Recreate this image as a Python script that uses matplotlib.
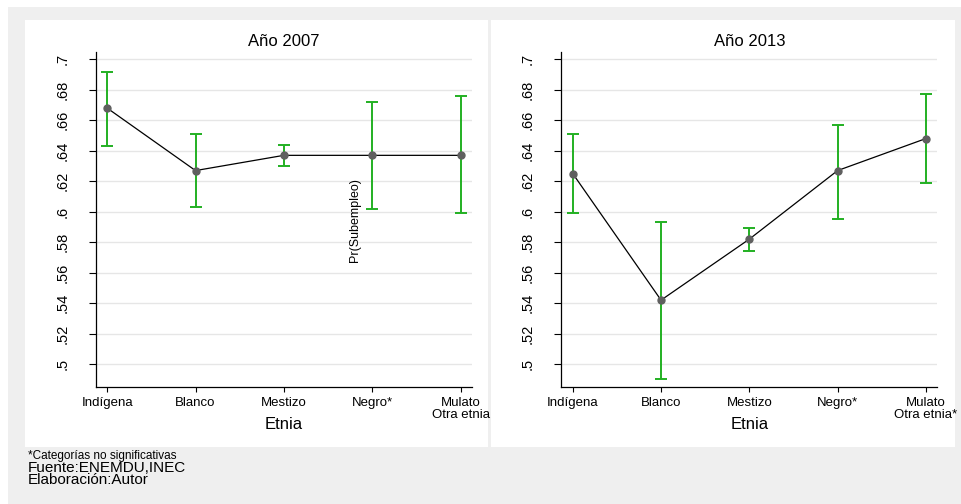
import matplotlib
matplotlib.use("Agg")
import matplotlib.pyplot as plt
from matplotlib.patches import Rectangle
import numpy as np

plt.rcParams['font.family'] = ['Liberation Sans', 'DejaVu Sans']

# Categories and predicted probabilities with confidence bounds
categorias_2007 = ["Indígena", "Blanco", "Mestizo", "Negro*", "Mulato\nOtra etnia"]
categorias_2013 = ["Indígena", "Blanco", "Mestizo", "Negro*", "Mulato\nOtra etnia*"]

prob_2007 = [0.668, 0.627, 0.637, 0.637, 0.637]
inf_2007 = [0.643, 0.603, 0.630, 0.602, 0.599]
sup_2007 = [0.692, 0.651, 0.644, 0.672, 0.676]

prob_2013 = [0.625, 0.542, 0.582, 0.627, 0.648]
inf_2013 = [0.599, 0.490, 0.574, 0.595, 0.619]
sup_2013 = [0.651, 0.593, 0.589, 0.657, 0.677]

y_ticks = [0.50, 0.52, 0.54, 0.56, 0.58, 0.60, 0.62, 0.64, 0.66, 0.68, 0.70]

W, H = 962, 504
fig = plt.figure(figsize=(W / 100, H / 100), dpi=100, facecolor='white')


def px_rect(x0, y0, x1, y1):
    # pixel box (top-left origin) -> figure fraction rectangle
    return (x0 / W, 1 - y1 / H, (x1 - x0) / W, (y1 - y0) / H)


# grey outer background and white panel areas (behind the axes)
bg = px_rect(8, 7, 962, 504)
fig.patches.append(Rectangle(bg[:2], bg[2], bg[3], transform=fig.transFigure,
                             facecolor='#efefef', edgecolor='none', zorder=-20))
for box in [(25, 20, 488, 447), (491, 20, 955, 447)]:
    r = px_rect(*box)
    fig.patches.append(Rectangle(r[:2], r[2], r[3], transform=fig.transFigure,
                                 facecolor='white', edgecolor='none', zorder=-10))

GREEN = '#22b022'
MARK = '#5f5f5f'


def fmt(v):
    s = f"{v:.2f}".rstrip('0').rstrip('.')
    return s.lstrip('0')


def panel(box, title, cats, prob, lo, hi):
    ax = fig.add_axes(px_rect(*box))
    ax.set_facecolor('none')
    x = np.arange(len(cats))
    prob = np.asarray(prob)
    yerr = np.vstack([prob - np.asarray(lo), np.asarray(hi) - prob])
    ax.errorbar(x, prob, yerr=yerr, fmt='none', ecolor=GREEN, elinewidth=1.4,
                capsize=4, capthick=1.4, zorder=2)
    ax.plot(x, prob, color='black', lw=0.9, zorder=3)
    ax.plot(x, prob, 'o', color=MARK, ms=5, mec=MARK, zorder=4)

    ax.set_xlim(-0.13, 4.13)
    ax.set_ylim(0.485, 0.705)
    ax.set_yticks(y_ticks)
    ax.set_yticklabels([fmt(v) for v in y_ticks], rotation=90,
                       va='center', fontsize=10.5)
    ax.set_xticks(x)
    ax.set_xticklabels(cats, fontsize=9.5, linespacing=0.9)
    ax.tick_params(axis='y', length=5, width=0.8, pad=14)
    ax.tick_params(axis='x', length=3.5, width=0.8, pad=4)
    ax.grid(axis='y', color='#e6e6e6', lw=1.0, zorder=0)
    ax.set_axisbelow(True)
    for side in ['top', 'right']:
        ax.spines[side].set_visible(False)
    for side in ['left', 'bottom']:
        ax.spines[side].set_linewidth(0.9)
    ax.text(0.5, 1.0179, title, transform=ax.transAxes, ha='center',
            va='baseline', fontsize=12)
    ax.set_xlabel("Etnia", fontsize=12, va='baseline')
    ax.xaxis.set_label_coords(0.5, -0.126)
    return ax


panel((95.7, 51.7, 472, 387), "Año 2007", categorias_2007, prob_2007, inf_2007, sup_2007)
panel((561.3, 51.7, 937.3, 387), "Año 2013", categorias_2013, prob_2013, inf_2013, sup_2013)

fig.text(355 / W, 1 - 220 / H, "Pr(Subempleo)", rotation=90, ha='center',
         va='center', fontsize=9)

fig.text(28 / W, 1 - 459 / H, "*Categorías no significativas", ha='left',
         va='baseline', fontsize=8.5)
fig.text(28 / W, 1 - 471.5 / H, "Fuente:ENEMDU,INEC", ha='left',
         va='baseline', fontsize=11)
fig.text(28 / W, 1 - 484 / H, "Elaboración:Autor", ha='left',
         va='baseline', fontsize=11)

fig.savefig("out.png", dpi=100, facecolor=fig.get_facecolor())
